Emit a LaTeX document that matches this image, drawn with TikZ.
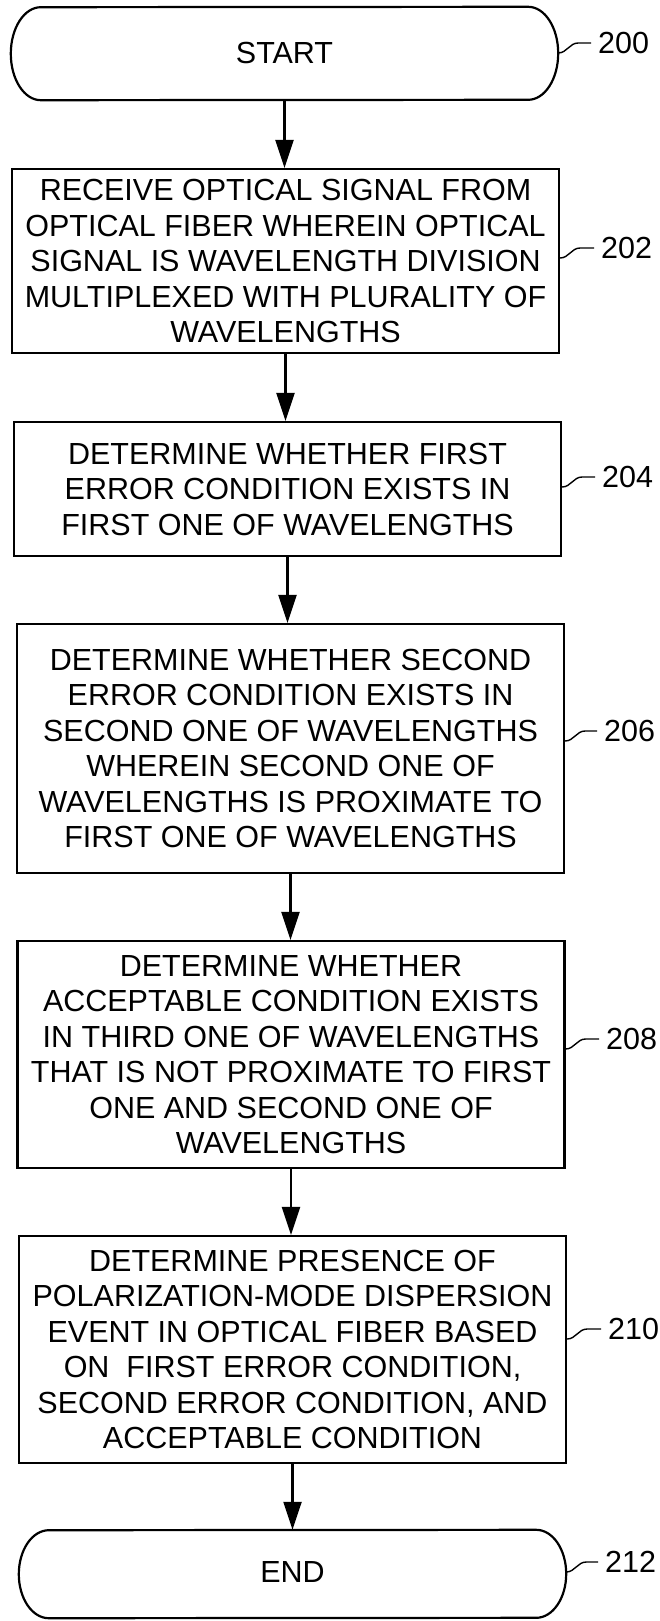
\documentclass[tikz,border=0pt]{standalone}
\usepackage{fontspec}
\setmainfont{Liberation Sans}
\usetikzlibrary{arrows.meta,calc}
\begin{document}
\begin{tikzpicture}[x=1pt,y=-1pt,
  every node/.style={font=\fontsize{30.5}{35.5}\selectfont},
  stepbox/.style={draw, line width=2.2pt, align=center, inner sep=0pt, minimum width=547pt},
  term/.style={inner sep=0pt, minimum width=547pt},
  refnum/.style={anchor=west, inner sep=0pt, font=\fontsize{30.5}{36}\selectfont},
  flow/.style={line width=2.2pt, -{Triangle[length=28pt,width=18pt]}},
  leader/.style={line width=1.4pt},
  outline/.style={line width=2.2pt}
]
\useasboundingbox (0,0) rectangle (660,1621);

% terminals
\node[term, minimum height=93pt] (s) at (284.5,53.5) {START};
\draw[outline] ([xshift=-30pt]s.north east) arc[start angle=90,end angle=-90,x radius=30pt,y radius=46.5pt]
  -- ([xshift=30pt]s.south west) arc[start angle=270,end angle=90,x radius=30pt,y radius=46.5pt] -- cycle;

\node[stepbox, minimum height=184pt] (b202) at (285.5,261) {RECEIVE OPTICAL SIGNAL FROM\\OPTICAL FIBER WHEREIN OPTICAL\\SIGNAL IS WAVELENGTH DIVISION\\MULTIPLEXED WITH PLURALITY OF\\WAVELENGTHS};
\node[stepbox, minimum height=134pt] (b204) at (287.5,489) {DETERMINE WHETHER FIRST\\ERROR CONDITION EXISTS IN\\FIRST ONE OF WAVELENGTHS};
\node[stepbox, minimum height=249pt] (b206) at (290.5,748.5) {DETERMINE WHETHER SECOND\\ERROR CONDITION EXISTS IN\\SECOND ONE OF WAVELENGTHS\\WHEREIN SECOND ONE OF\\WAVELENGTHS IS PROXIMATE TO\\FIRST ONE OF WAVELENGTHS};
\node[stepbox, minimum height=227pt] (b208) at (291,1054.5) {DETERMINE WHETHER\\ACCEPTABLE CONDITION EXISTS\\IN THIRD ONE OF WAVELENGTHS\\THAT IS NOT PROXIMATE TO FIRST\\ONE AND SECOND ONE OF\\WAVELENGTHS};
\node[stepbox, minimum height=227pt] (b210) at (292.5,1349.5) {DETERMINE PRESENCE OF\\POLARIZATION-MODE DISPERSION\\EVENT IN OPTICAL FIBER BASED\\ON\ \ FIRST ERROR CONDITION,\\SECOND ERROR CONDITION, AND\\ACCEPTABLE CONDITION};

\node[term, minimum height=88pt] (e) at (292.5,1574) {\raisebox{4pt}{END}};
\draw[outline] ([xshift=-30pt]e.north east) arc[start angle=90,end angle=-90,x radius=30pt,y radius=44pt]
  -- ([xshift=30pt]e.south west) arc[start angle=270,end angle=90,x radius=30pt,y radius=44pt] -- cycle;

% flow arrows
\draw[flow] (s.south) -- (s.south |- b202.north);
\draw[flow] (b202.south) -- (b202.south |- b204.north);
\draw[flow] (b204.south) -- (b204.south |- b206.north);
\draw[flow] (b206.south) -- (b206.south |- b208.north);
\draw[flow] (b208.south) -- (b208.south |- b210.north);
\draw[flow] (b210.south) -- (b210.south |- e.north);

% reference numerals
\node[refnum] (l200) at (598,43) {200};
\node[refnum] (l202) at (601,248) {202};
\node[refnum] (l204) at (602,477) {204};
\node[refnum] (l206) at (604,731) {206};
\node[refnum] (l208) at (606,1039) {208};
\node[refnum] (l210) at (608,1329) {210};
\node[refnum] (l212) at (605,1562) {212};

\draw[leader] ($(s.east |- l200.west)+(0,10)$) to[out=0,in=180] ++(20,-10) -- ($(l200.west)+(-7,0)$);
\draw[leader] ($(b202.east |- l202.west)+(0,10)$) to[out=0,in=180] ++(20,-10) -- ($(l202.west)+(-7,0)$);
\draw[leader] ($(b204.east |- l204.west)+(0,10)$) to[out=0,in=180] ++(20,-10) -- ($(l204.west)+(-7,0)$);
\draw[leader] ($(b206.east |- l206.west)+(0,10)$) to[out=0,in=180] ++(20,-10) -- ($(l206.west)+(-7,0)$);
\draw[leader] ($(b208.east |- l208.west)+(0,10)$) to[out=0,in=180] ++(20,-10) -- ($(l208.west)+(-7,0)$);
\draw[leader] ($(b210.east |- l210.west)+(0,10)$) to[out=0,in=180] ++(20,-10) -- ($(l210.west)+(-7,0)$);
\draw[leader] ($(e.east |- l212.west)+(0,10)$) to[out=0,in=180] ++(20,-10) -- ($(l212.west)+(-7,0)$);
\end{tikzpicture}
\end{document}
